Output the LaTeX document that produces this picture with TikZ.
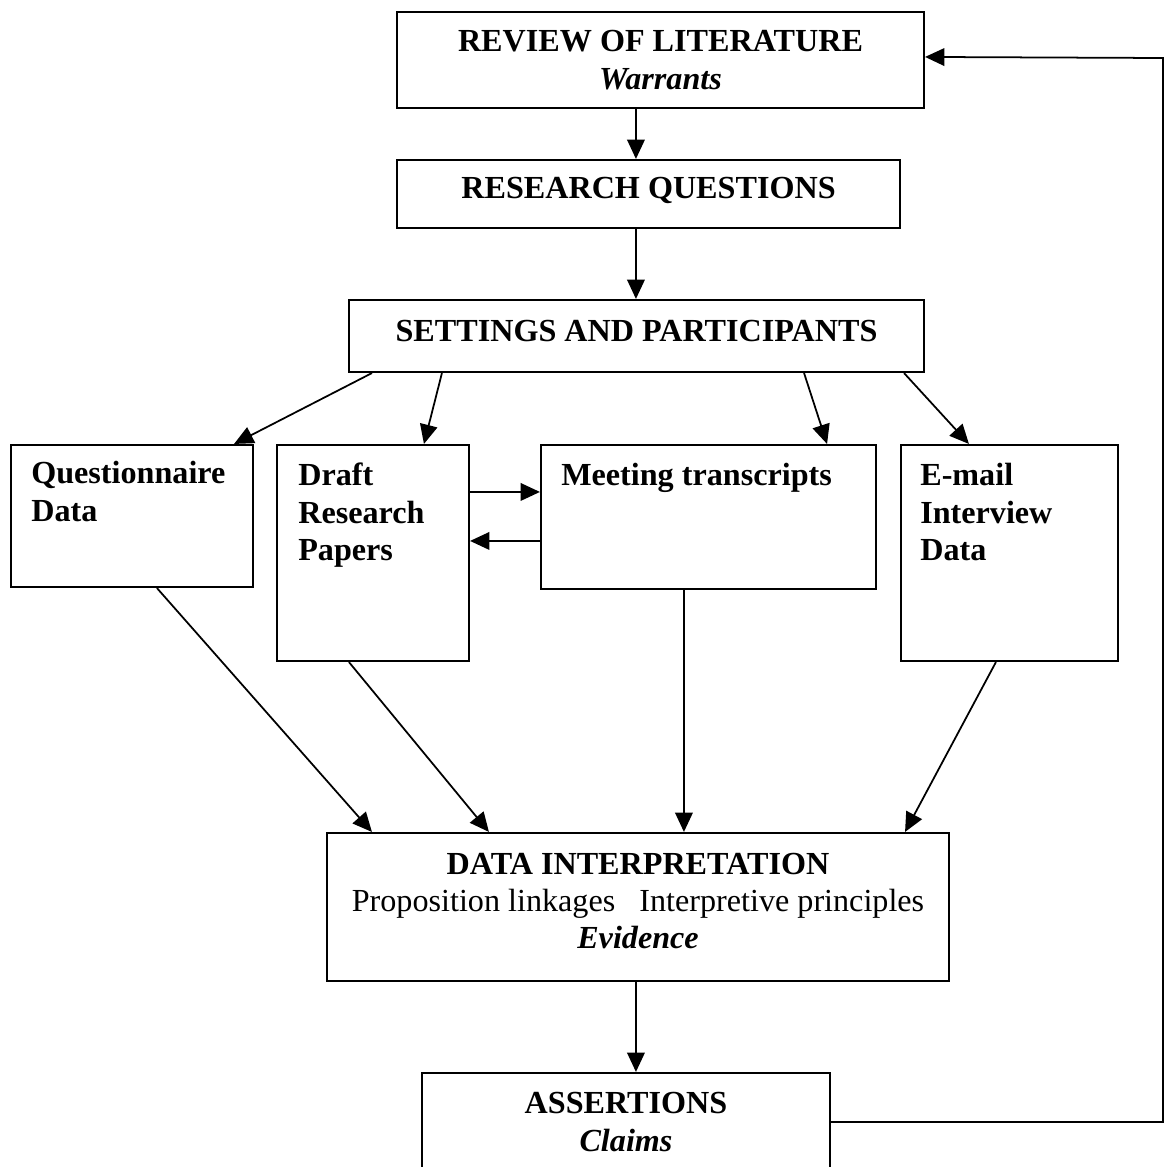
\documentclass[tikz,border=0pt]{standalone}
\usepackage{fontspec}
\setmainfont{Liberation Serif}
\usepackage{tikz}
\usetikzlibrary{calc}
\usetikzlibrary{arrows.meta,positioning,fit}
\newcommand\boxfont{\fontsize{18.3}{21.3}\selectfont}

\begin{document}
\begin{tikzpicture}
    [
        x=0.02cm, y=-0.02cm,
        stage/.style={draw, line width=1.2pt, inner sep=0pt},
        stagetext/.style={inner sep=0pt, align=center, font=\bfseries\boxfont},
        source/.style={draw, line width=1.2pt, inner sep=0pt},
        srctext/.style={inner sep=0pt, anchor=north west, align=left, font=\bfseries\boxfont},
        flow/.style={line width=1pt, -{Triangle[length=11pt, width=10pt]}}
    ]
%    \draw[style=help lines,step=50] (0,0) grid (1165,1167);
    \clip (0,0) rectangle (1165,1167);

    % main column
    \node[stage, fit={(397,12) (924,108)}] (rev) {};
    \node[stage, fit={(397,160) (900,228)}] (rq) {};
    \node[stage, fit={(349,300) (924,372)}] (set) {};
    \node[stage, fit={(327,833) (949,981)}] (interp) {};
    \node[stage, fit={(422,1073) (830,1171)}] (assert) {};

    \node[stagetext] (revT) at (rev.center) {REVIEW OF LITERATURE\\\textit{Warrants}};
    \node[stagetext] (rqT) at ($(rq.center)+(0,-4)$) {RESEARCH QUESTIONS};
    \node[stagetext] (setT) at ($(set.center)+(0,-5)$) {SETTINGS AND PARTICIPANTS};
    \node[stagetext] (interpT) at ($(interp.center)+(0,-6)$)
        {DATA INTERPRETATION\\
         {\mdseries Proposition linkages\hspace{0.75em}Interpretive principles}\\
         \textit{Evidence}};
    \node[stagetext] (assertT) at (assert.center) {ASSERTIONS\\\textit{Claims}};

    % data sources
    \node[source, fit={(11,445) (253,587)}] (quest) {};
    \node[source, fit={(277,445) (469,661)}] (draft) {};
    \node[source, fit={(541,445) (876,589)}] (meet) {};
    \node[source, fit={(901,445) (1118,661)}] (mail) {};

    \node[srctext] (questT) at ($(quest.north west)+(21,17)$) {Questionnaire\\Data};
    \node[srctext] (draftT) at ($(draft.north west)+(22,19)$) {Draft\\Research\\Papers};
    \node[srctext] (meetT) at ($(meet.north west)+(21,19)$) {Meeting transcripts};
    \node[srctext] (mailT) at ($(mail.north west)+(20,19)$) {E-mail\\Interview\\Data};

    \coordinate (loop) at (1163,58);

    \draw[flow] ($(rev.south west)+(240,0)$) -- ($(rq.north west)+(240,0)$);
    \draw[flow] ($(rq.south west)+(240,0)$) -- ($(set.north west)+(288,0)$);

    \draw[flow] ($(set.south west)+(24,0)$) -- ($(quest.north east)+(-20,0)$);
    \draw[flow] ($(set.south west)+(94,0)$) -- ($(draft.north west)+(148,0)$);
    \draw[flow] ($(set.south east)+(-121,0)$) -- ($(meet.north east)+(-50,0)$);
    \draw[flow] ($(set.south east)+(-21,0)$) -- ($(mail.north west)+(69,0)$);

    \draw[flow] ($(draft.north east)+(0,48)$) -- ($(meet.north west)+(0,48)$);
    \draw[flow] ($(meet.north west)+(0,97)$) -- ($(draft.north east)+(0,97)$);

    \draw[flow] ($(quest.south west)+(147,0)$) -- ($(interp.north west)+(46,0)$);
    \draw[flow] ($(draft.south west)+(73,0)$) -- ($(interp.north west)+(163,0)$);
    \draw[flow] ($(meet.south west)+(144,0)$) -- ($(interp.north west)+(358,0)$);
    \draw[flow] ($(mail.south west)+(96,0)$) -- ($(interp.north east)+(-45,0)$);

    \draw[flow] ($(interp.south west)+(310,0)$) -- ($(assert.north west)+(215,0)$);
    \draw[flow] (assert.east) -| (loop) -- ($(rev.north east)+(0,46)$);
\end{tikzpicture}
\end{document}
